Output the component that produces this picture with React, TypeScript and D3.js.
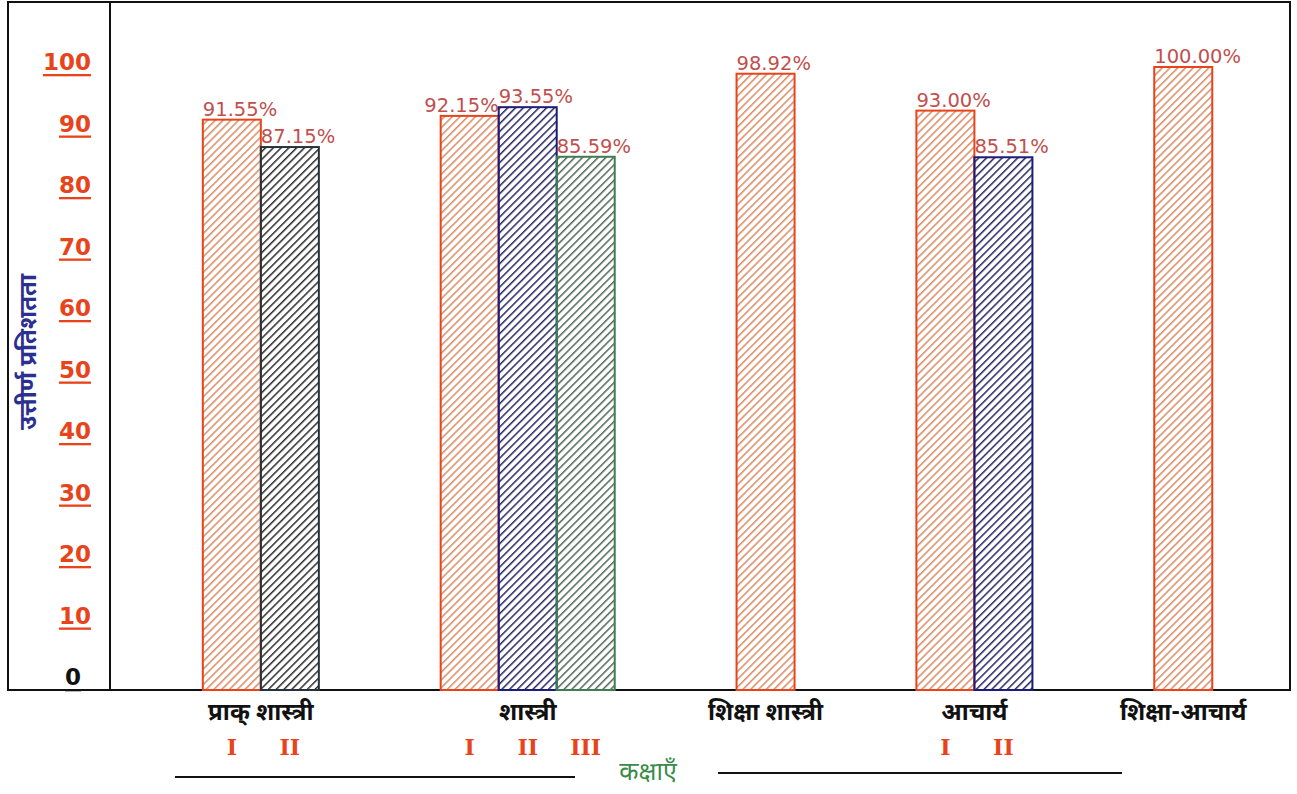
import React from 'react';
import * as d3 from 'd3';

// कक्षा-वार उत्तीर्ण प्रतिशतता
const categories = ['प्राक् शास्त्री', 'शास्त्री', 'शिक्षा शास्त्री', 'आचार्य', 'शिक्षा-आचार्य'];
const yearLabels = [['I', 'II'], ['I', 'II', 'III'], [], ['I', 'II'], []];
const passPercent = [[91.55, 87.15], [92.15, 93.55, 85.59], [98.92], [93.0, 85.51], [100.0]];
const barKinds = [['orange', 'dark'], ['orange', 'navy', 'green'], ['orange'], ['orange', 'navy'], ['orange']];
const yTicks = [0, 10, 20, 30, 40, 50, 60, 70, 80, 90, 100];

const styles: Record<string, { stroke: string; hatch: string }> = {
  orange: { stroke: '#e8431a', hatch: '#d98a62' },
  dark: { stroke: '#263238', hatch: '#2a2a2a' },
  navy: { stroke: '#1c1c7a', hatch: '#252560' },
  green: { stroke: '#3f7f4f', hatch: '#4f665a' },
};

const W = 1297;
const H = 794;
const plotLeft = 110;
const plotRight = 1290;
const plotBottom = 690;
const devFont = '"Noto Sans Devanagari", "Noto Sans", "DejaVu Sans", sans-serif';

export default function App() {
  // slot layout: each bar one slot, fixed gap between groups
  const leadGap = 1.6;
  const gap = 2.1;
  const trailGap = 1.34;
  const nBars = d3.sum(passPercent, (g) => g.length);
  const totalSlots = leadGap + nBars + gap * (categories.length - 1) + trailGap;
  const x = d3.scaleLinear().domain([0, totalSlots]).range([plotLeft, plotRight]);
  const y = d3.scaleLinear().domain([0, 100]).range([plotBottom, 67]);
  const yLab = d3.scaleLinear().domain([0, 100]).range([plotBottom - 13, 62]);
  const bw = x(1) - x(0);

  let cursor = leadGap;
  const groups = categories.map((name, gi) => {
    const start = cursor;
    cursor += passPercent[gi].length + gap;
    const bars = passPercent[gi].map((v, j) => ({
      v,
      kind: barKinds[gi][j],
      year: yearLabels[gi][j],
      x0: x(start + j),
      next: passPercent[gi][j + 1],
    }));
    return { name, center: x(start + passPercent[gi].length / 2), bars };
  });

  return (
    <svg width={W} height={H} style={{ position: 'absolute', left: 0, top: 0, background: '#fff' }}>
      <defs>
        {Object.entries(styles).map(([k, s]) => (
          <pattern key={k} id={`hatch-${k}`} patternUnits="userSpaceOnUse" width={5.5} height={5.5}
            patternTransform="rotate(45)">
            <line x1={0} y1={0} x2={0} y2={5.5} stroke={s.hatch} strokeWidth={3} />
          </pattern>
        ))}
      </defs>

      {/* frame */}
      <rect x={8} y={2} width={1282} height={plotBottom - 2} fill="none" stroke="#111" strokeWidth={2} />
      <line x1={plotLeft} x2={plotLeft} y1={2} y2={plotBottom} stroke="#111" strokeWidth={2} />

      {/* y tick labels */}
      {yTicks.map((t) => (
        <text key={t} x={t === 0 ? 81 : 91} y={yLab(t)} textAnchor="end" dominantBaseline="central"
          fontFamily='"DejaVu Sans", sans-serif' fontWeight="bold" fontSize={23}
          fill={t === 0 ? '#111' : '#e8431a'} style={{ textDecoration: 'underline' }}>
          {t}
        </text>
      ))}
      <text transform="translate(30,352) rotate(-90)" textAnchor="middle" dominantBaseline="central"
        fontFamily={devFont} fontWeight="bold" fontSize={24} fill="#2b2f8f">
        उत्तीर्ण प्रतिशतता
      </text>

      {/* bars */}
      {groups.map((g) =>
        g.bars.map((b, j) => (
          <g key={`${g.name}-${j}`}>
            <rect x={b.x0} y={y(b.v)} width={bw} height={y(0) - y(b.v)}
              fill={`url(#hatch-${b.kind})`} stroke={styles[b.kind].stroke} strokeWidth={2} />
            <text x={b.next !== undefined && b.next > b.v ? b.x0 + bw : b.x0} y={y(b.v) - 4}
              textAnchor={b.next !== undefined && b.next > b.v ? 'end' : 'start'}
              fontFamily='"DejaVu Sans", sans-serif' fontSize={19.5} fill="#c0504d">
              {b.v.toFixed(2)}%
            </text>
            {b.year && (
              <text x={b.x0 + bw / 2} y={755} textAnchor="middle"
                fontFamily='"DejaVu Serif", serif' fontWeight="bold" fontSize={22} fill="#e8431a">
                {b.year}
              </text>
            )}
          </g>
        ))
      )}

      {/* category labels */}
      {groups.map((g) => (
        <text key={g.name} x={g.center} y={720} textAnchor="middle" fontFamily={devFont}
          fontWeight="bold" fontSize={24} fill="#111">
          {g.name}
        </text>
      ))}

      {/* x axis title */}
      <line x1={175} x2={575} y1={777} y2={777} stroke="#111" strokeWidth={2} />
      <line x1={718} x2={1122} y1={773} y2={773} stroke="#111" strokeWidth={2} />
      <text x={648} y={780} textAnchor="middle" fontFamily={devFont} fontSize={25} fill="#3a8a4a">
        कक्षाएँ
      </text>
    </svg>
  );
}
